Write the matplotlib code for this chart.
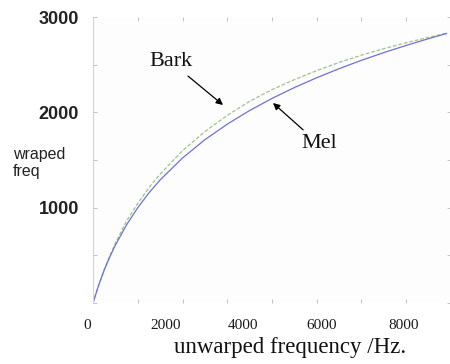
import matplotlib
matplotlib.use("Agg")
import matplotlib.pyplot as plt
from matplotlib.ticker import MultipleLocator, NullFormatter
import matplotlib.transforms as mtransforms

# Data
freq_hz = [0, 125, 250, 375, 500, 750, 1000, 1250, 1500, 2000, 2500, 3000,
           3500, 4000, 4500, 5000, 5500, 6000, 6500, 7000, 7500, 7900]
mel_warp = [0, 184, 344, 483, 607, 820, 1000, 1155, 1291, 1521, 1713, 1876,
            2019, 2146, 2260, 2363, 2458, 2546, 2627, 2702, 2773, 2827]
bark_warp = [0, 188, 352, 495, 628, 860, 1045, 1210, 1352, 1598, 1798, 1968,
             2116, 2238, 2343, 2438, 2523, 2600, 2668, 2730, 2787, 2830]

y_tick_values = [1000, 2000, 3000]
y_tick_labels = ['1000', '2000', '3000']
x_label_texts = ['0', '2000', '4000', '6000', '8000']
x_label_positions = [-134, 1631, 3352, 5117, 6950]  # where the labels sit in the picture

fig = plt.figure(figsize=(4.5, 3.64), dpi=100)
fig.patch.set_facecolor('white')
ax = fig.add_axes([93/450, 61/364, 358/450, 286/364])
ax.set_facecolor('#fdfdfd')

ax.plot(freq_hz, bark_warp, color='#9cc48a', lw=0.9, ls=(0, (3, 1.5)))
ax.plot(freq_hz, mel_warp, color='#7070d8', lw=0.9)

ax.set_xlim(0, 8000)
ax.set_ylim(0, 3000)

for s in ['top', 'right', 'bottom']:
    ax.spines[s].set_visible(False)
ax.spines['left'].set_color('#d4d4d4')
ax.spines['left'].set_linewidth(0.8)

ax.xaxis.set_major_locator(MultipleLocator(1000))
ax.xaxis.set_major_formatter(NullFormatter())
ax.set_yticks(y_tick_values)
ax.set_yticklabels(y_tick_labels, fontfamily='Liberation Sans',
                   fontweight='bold', fontsize=13, color='#222222')
ax.yaxis.set_minor_locator(MultipleLocator(500))
ax.tick_params(axis='both', which='both', direction='in', length=3,
               width=0.6, color='#b8b8b8', top=True, right=True)
ax.tick_params(axis='y', which='major', pad=10)

trans = mtransforms.blended_transform_factory(ax.transData, ax.transAxes)
for xp, txt in zip(x_label_positions, x_label_texts):
    ax.text(xp, -0.077, txt, transform=trans, ha='center', va='center',
            fontfamily='Liberation Serif', fontsize=11, color='#1a1a1a',
            clip_on=False)

fig.text(290/450, 1 - 348/364, 'unwarped frequency /Hz.', ha='center',
         va='center', fontfamily='Liberation Serif', fontsize=16.5,
         color='#111111')
fig.text(13/450, 1 - 163/364, 'wraped\nfreq', ha='left', va='center',
         fontfamily='Liberation Sans', fontsize=11.5, color='#222222',
         linespacing=1.2)

arrow = dict(arrowstyle='-|>', color='black', lw=0.9,
             mutation_scale=10, shrinkA=2, shrinkB=0)
ax.annotate('Bark', xy=(2905, 2077), xytext=(1743, 2528), ha='center',
            va='center', fontfamily='Liberation Serif', fontsize=16,
            color='#111111', arrowprops=arrow)
ax.annotate('Mel', xy=(4022, 2098), xytext=(5050, 1668), ha='center',
            va='center', fontfamily='Liberation Serif', fontsize=16,
            color='#111111', arrowprops=arrow)

fig.savefig('out.png', dpi=100)
